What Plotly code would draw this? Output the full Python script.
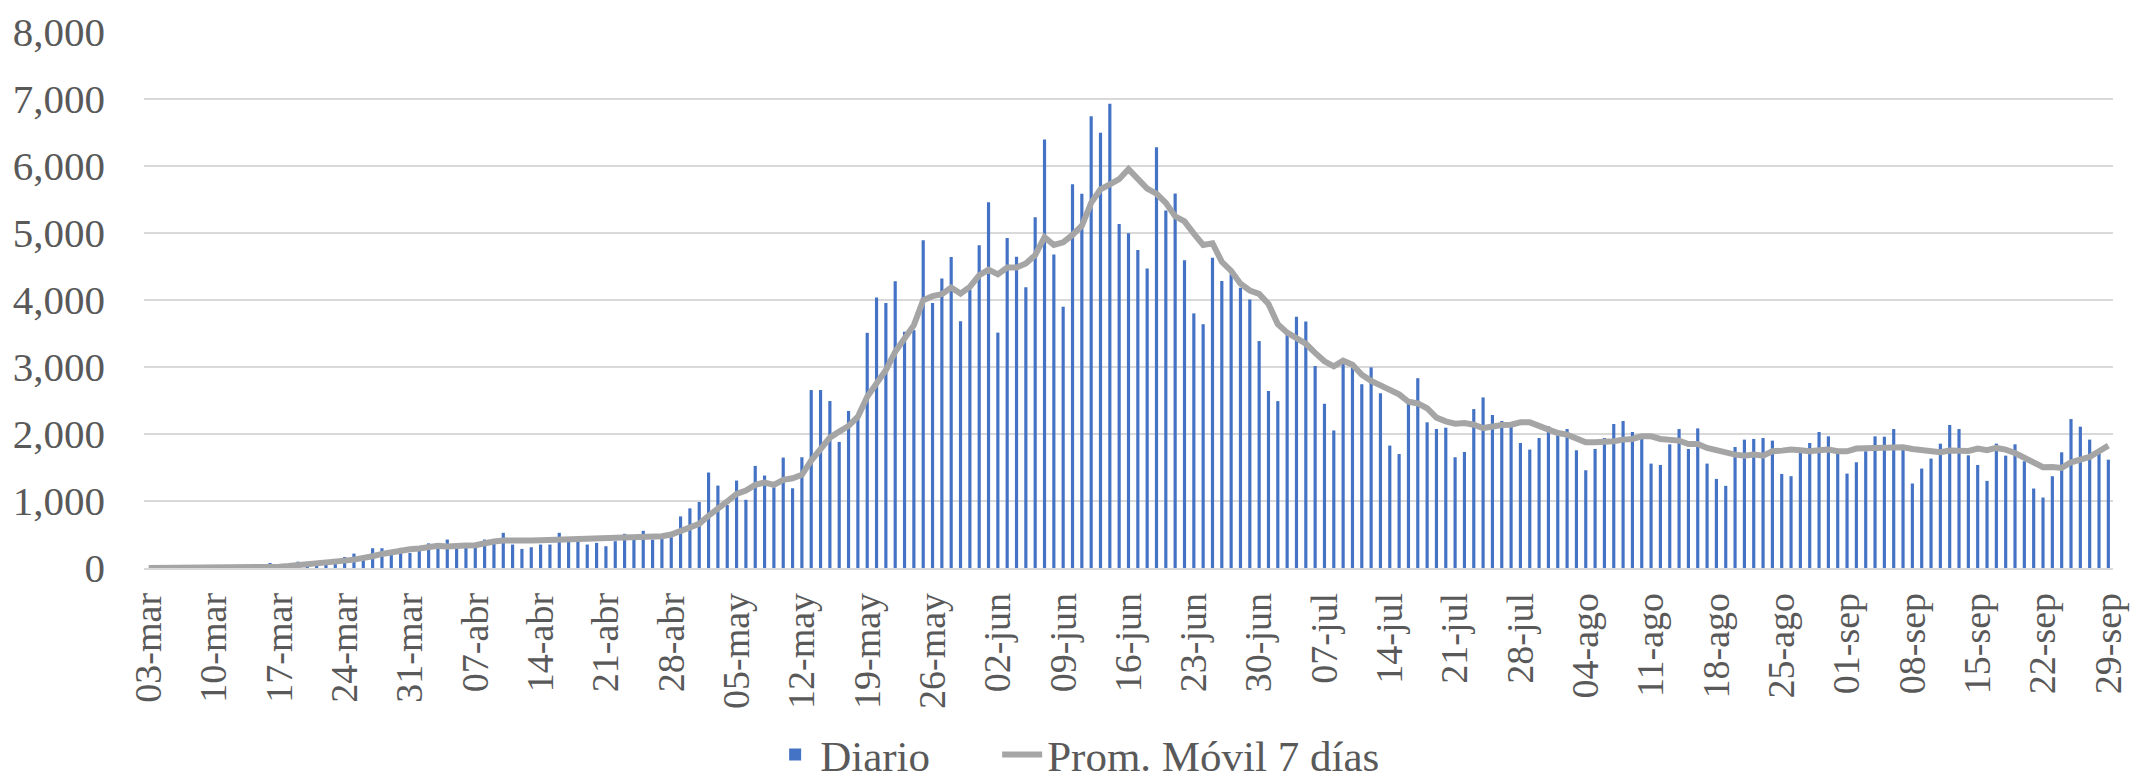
import pandas as pd
import plotly.graph_objects as go

# ---- data ----
start_date = "2020-03-03"
end_date = "2020-09-29"
month_abbr_es = ["ene", "feb", "mar", "abr", "may", "jun", "jul", "ago", "sep", "oct", "nov", "dic"]

diario = [
    0, 0, 0, 1, 0, 0, 2, 3, 2, 4, 7, 10, 20,
    75, 15, 25, 95, 35, 45, 55, 65, 165, 215, 125, 295, 295, 200, 300, 225, 255, 368, 320,
    425, 300, 300, 325, 425, 425, 525, 350, 285, 310, 350, 350, 525, 440, 470, 350, 375, 325,
    400, 510, 485, 555, 425, 435, 460, 770, 890, 985, 1425, 1230,
    940, 1305, 1018, 1524, 1380, 1205, 1648, 1190, 1653, 2656, 2656, 2492, 1882, 2343, 2234,
    3510, 4037, 3957, 4280, 3525, 3550, 4891, 3957, 4320, 4643, 3684, 4156, 4816,
    5460, 3513, 4927, 4645, 4192, 5234, 6396, 4680, 3900, 5727, 5586, 6744, 6497, 6930, 5133,
    4997, 4746, 4469, 6281, 5335, 5591, 4595, 3800, 3639,
    4630, 4283, 4383, 4182, 4006, 3387, 2642, 2491, 3478, 3749, 3679, 3015, 2451, 2053, 3060,
    2984, 2743, 2994, 2607, 1827, 1701, 2456, 2833, 2174, 2074,
    2094, 1653, 1732, 2372, 2546, 2283, 2194, 2114, 1866, 1767, 1940, 2114, 1990, 2074, 1757,
    1459, 1777, 1940, 2149, 2194, 2030, 1965,
    1558, 1538, 1846, 2074, 1777, 2084, 1558, 1330, 1226, 1806, 1916, 1926, 1940, 1901, 1404,
    1370, 1717, 1866, 2030, 1965, 1717, 1409, 1578, 1742, 1965, 1960, 2074,
    1767, 1261, 1484, 1633, 1856, 2134, 2074, 1682, 1538, 1300, 1856, 1677, 1846, 1593, 1186,
    1052, 1370, 1727, 2223, 2109, 1916, 1717, 1617,
]

prom_movil_7 = [
    0, 0, 0, 0, 0, 0, 1, 1, 2, 2, 3, 4, 6,
    15, 20, 30, 40, 50, 60, 75, 90, 110, 125, 140, 175, 210, 240, 265, 280, 290, 320, 330,
    320, 335, 335, 340, 375, 395, 410, 405, 405, 410, 415, 420, 425, 420, 415, 420, 425, 432,
    440, 442, 445, 455, 465, 475, 500, 550, 615, 660, 780, 900,
    993, 1107, 1157, 1241, 1276, 1241, 1316, 1340, 1390, 1604, 1787, 1946, 2036, 2120, 2259,
    2557, 2756, 2954, 3227, 3426, 3625, 3997, 4057, 4086, 4186, 4096, 4196, 4369,
    4454, 4383, 4484, 4484, 4544, 4670, 4937, 4821, 4861, 4972, 5108, 5450, 5652, 5727, 5803,
    5954, 5803, 5662, 5586, 5450, 5249, 5173, 4990, 4821,
    4847, 4570, 4434, 4243, 4142, 4092, 3941, 3639, 3513, 3437, 3347, 3211, 3085, 3010, 3095,
    3035, 2884, 2793, 2723, 2642, 2592, 2481, 2456, 2385, 2245,
    2189, 2154, 2164, 2139, 2089, 2114, 2134, 2139, 2174, 2174, 2114, 2055, 2015, 1990, 1931,
    1876, 1876, 1876, 1891, 1916, 1926, 1965,
    1965, 1926, 1904, 1901, 1851, 1851, 1792, 1757, 1707, 1692, 1677, 1692, 1677, 1742, 1752,
    1767, 1757, 1742, 1757, 1767, 1742, 1742, 1782, 1787, 1801, 1790, 1803,
    1801, 1777, 1757, 1742, 1727, 1752, 1757, 1747, 1782, 1757, 1792, 1767, 1717, 1653, 1578,
    1504, 1509, 1494, 1578, 1618, 1658, 1742, 1826,
]

# ---- categories (one per day) ----
dates = pd.date_range(start_date, end_date, freq="D")
categorias = [f"{d.day:02d}-{month_abbr_es[d.month - 1]}" for d in dates]
tick_labels = categorias[::7]

text_color = "#595959"
font_family = "Liberation Serif, Times New Roman, serif"

fig = go.Figure()
fig.add_trace(go.Bar(
    x=categorias, y=diario, name="Diario",
    marker=dict(color="#4472C4", line=dict(width=0)),
    width=0.34,
    legendwidth=172,
))
fig.add_trace(go.Scatter(
    x=categorias, y=prom_movil_7, name="Prom. Móvil 7 días",
    mode="lines",
    line=dict(color="#A5A5A5", width=6, shape="linear"),
))

fig.update_layout(
    width=2133, height=782, autosize=False,
    margin=dict(l=144, r=20, t=32, b=214, autoexpand=False),
    paper_bgcolor="white", plot_bgcolor="white",
    font=dict(family=font_family, color=text_color, size=43),
    showlegend=True,
    legend=dict(
        orientation="h", x=0.318, xanchor="left", y=-0.348, yanchor="middle",
        font=dict(size=43, color=text_color, family=font_family),
        itemwidth=40, traceorder="normal",
    ),
    xaxis=dict(
        type="category",
        categoryorder="array", categoryarray=categorias,
        range=[-0.5, len(categorias) - 0.5],
        tickmode="array", tickvals=tick_labels, ticktext=tick_labels,
        tickangle=-90,
        tickfont=dict(size=38, color=text_color, family=font_family),
        showgrid=False, showline=True, linecolor="#D9D9D9", linewidth=1.5,
        ticks="", ticklabelstandoff=8, automargin=False,
        fixedrange=True,
    ),
    yaxis=dict(
        range=[0, 8000], dtick=1000, tick0=0,
        tickformat=",d",
        tickfont=dict(size=41, color=text_color, family=font_family),
        showgrid=True, gridcolor="#D9D9D9", gridwidth=1.5,
        zeroline=False, showline=False,
        ticks="", ticklabelstandoff=38, automargin=False,
        fixedrange=True,
    ),
)

fig.write_html(
    "out.html",
    config={"displayModeBar": False},
    post_script="document.body.style.margin='0';document.body.style.overflow='hidden';",
)
